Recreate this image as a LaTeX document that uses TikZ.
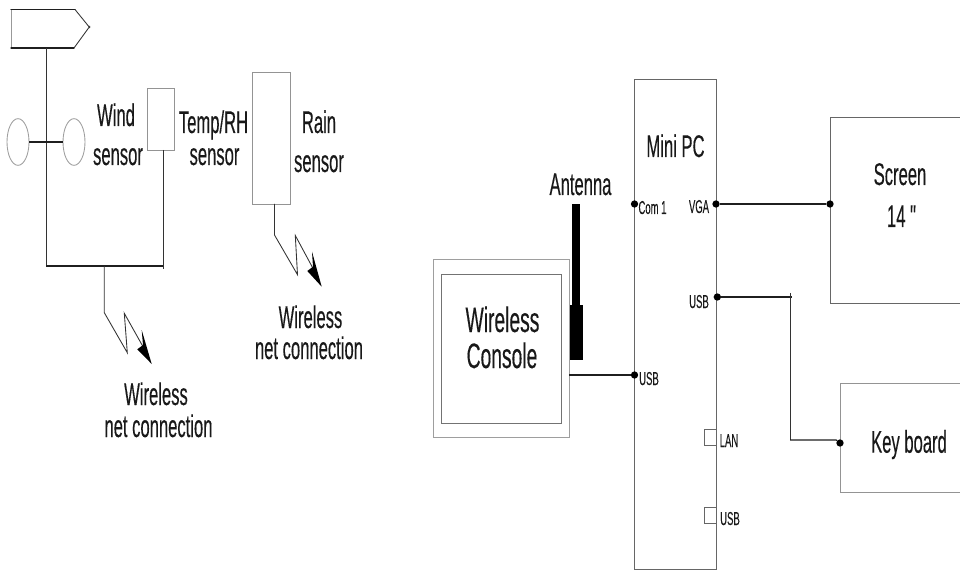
\documentclass[tikz,border=0pt]{standalone}
\usepackage{fontspec}
\usetikzlibrary{shapes.geometric}
\newfontfamily\bigf[FakeStretch=0.53,FakeBold=0.25]{Liberation Sans}
\newfontfamily\conf[FakeStretch=0.545,FakeBold=0.25]{Liberation Sans}
\newfontfamily\smallf[FakeStretch=0.51,FakeBold=0.2]{Liberation Sans}
\tikzset{
  px/.style={x=0.75pt,y=-0.75pt},
  boxline/.style={draw=black!60,line width=0.65pt},
  wire/.style={draw=black!80,line width=0.65pt},
  thickwire/.style={draw=black!88,line width=0.95pt},
  pbox/.style={boxline,rectangle,inner sep=0pt,outer sep=0pt,fill=none},
  lab/.style={anchor=base,inner sep=0pt,outer sep=0pt,text=black!90,font=\bigf\fontsize{23.5pt}{26pt}\selectfont},
  clab/.style={lab,font=\conf\fontsize{26.5pt}{29pt}\selectfont},
  slab/.style={lab,font=\smallf\fontsize{14pt}{15pt}\selectfont},
  portdot/.style={circle,fill=black,inner sep=0pt,minimum width=4pt,minimum height=5.5pt},
  headfill/.style={fill=black,draw=none},
}
\newcommand{\boxat}[6][]{%
  \node[pbox,#1,minimum width={(#5-#3)*0.75pt},minimum height={(#6-#4)*0.75pt}] (#2) at ({(#3+#5)/2},{(#4+#6)/2}) {};}
\begin{document}
\begin{tikzpicture}[px]
\useasboundingbox (0,0) rectangle (960,570);
\clip (0,0) rectangle (960,570);
% weather vane
\coordinate (flagbase) at (46,48);
\draw[draw=black!40,line width=0.6pt] (11,9.5) -- (11,48);
\draw[thickwire,line cap=round] (11,9.5) -- (75,9.5);
\draw[thickwire,line cap=round] (11,48) -- (74,48);
\draw[wire] (75,9.5) -- (90,28);
\draw[wire] (90,26) -- (74,48);
\node[pbox,ellipse,minimum width=16.5pt,minimum height=35pt,draw=black!38] (cupl) at (18,142) {};
\node[pbox,ellipse,minimum width=16.5pt,minimum height=35pt,draw=black!38] (cupr) at (74,142) {};
\coordinate (polejoin) at (46,266);
\coordinate (busend) at (163,266);
\coordinate (busdrop) at (104.3,266);
\draw[wire] (flagbase) -- (polejoin);
\draw[thickwire] (cupl.east) -- (cupr.west);
\draw[thickwire] (polejoin) -- (busend);
\boxat[draw=black!42]{wind}{147}{88}{174}{150}
\coordinate (windfoot) at (163,150);
\draw[wire] (windfoot) -- (163,269);
% zigzag 1
\coordinate (za) at (104.3,312.7);
\draw[wire] (busdrop) -- (za) -- (127.3,352.7) -- (124.3,313.3) -- (146,352);
\fill[headfill] (151.7,364) -- (141.7,330) -- (143,345) -- (137.3,349.3) -- cycle;
% rain sensor
\boxat[draw=black!42]{rain}{252}{72}{290}{204}
\coordinate (rainfoot) at (274.5,204);
\coordinate (zb) at (274.5,235);
\draw[wire] (rainfoot) -- (zb) -- (297.5,274.7) -- (295.3,235.5) -- (316,274);
\fill[headfill] (321.7,286.7) -- (312,251.7) -- (313,266.7) -- (307.3,271) -- cycle;
% left labels
\node[lab] (lwind) at (116,126) {Wind};
\node[lab] (lwinds) at (118,165) {sensor};
\node[lab] (ltemp) at (213.5,133) {Temp/RH};
\node[lab] (ltemps) at (214.5,165) {sensor};
\node[lab] (lrain) at (319,133) {Rain};
\node[lab] (lrains) at (319,172) {sensor};
\node[lab] (lw1) at (156,405) {Wireless};
\node[lab] (ln1) at (158.5,437) {net connection};
\node[lab] (lw2) at (310.5,328) {Wireless};
\node[lab] (ln2) at (309,359) {net connection};
% console
\boxat[draw=black!38]{consoleout}{433.5}{259}{569}{437.5}
\boxat[draw=black!55]{consolein}{441}{274}{561}{423}
\node[clab] (lw3) at (502.5,332) {Wireless};
\node[clab] (lc3) at (502,368) {Console};
% antenna
\node[lab] (lant) at (580.5,195) {Antenna};
\fill[black] (572,204) rectangle (580,305);
\fill[black] (570,305) rectangle (583,360);
% mini pc
\boxat{pc}{634.5}{79.5}{716}{569}
\node[lab] (lpc) at (675.5,157) {Mini PC};
\node[portdot] (pcom) at (634.5,204) {};
\node[portdot] (pusbl) at (634.5,375) {};
\node[portdot] (pvga) at (716,204) {};
\node[portdot] (pusbr) at (717.3,297) {};
\node[slab] (lcom) at (652.5,214) {Com 1};
\node[slab] (lusbl) at (649,385) {USB};
\node[slab] (lvga) at (699,213) {VGA};
\node[slab] (lusbr) at (699,308) {USB};
\boxat{lanport}{704}{429}{716}{445.5}
\boxat{usbport}{704}{507}{716}{523}
\node[slab] (llan) at (729,447) {LAN};
\node[slab] (lusbp) at (730,525) {USB};
\coordinate (consoleport) at (569,375);
\draw[thickwire] (consoleport) -- (pusbl);
% screen, open at picture edge
\boxat{screen}{830}{117}{980}{303}
\node[portdot] (sdot) at (830,204) {};
\draw[thickwire] (pvga) -- (sdot);
\node[lab] (ls) at (900,185) {Screen};
\node[lab] (l14) at (901.5,227) {14 "};
% keyboard
\boxat[draw=black!42]{kbd}{840}{383.5}{980}{492}
\node[portdot] (kdot) at (840,443) {};
\node[lab] (lk) at (909,452.7) {Key board};
\coordinate (benda) at (790,440);
\draw[thickwire] (pusbr) -- (792,297);
\draw[wire] (790,293) -- (benda);
\draw[thickwire] (benda) -- (kdot.west |- benda) -- (kdot);
\end{tikzpicture}
\end{document}
